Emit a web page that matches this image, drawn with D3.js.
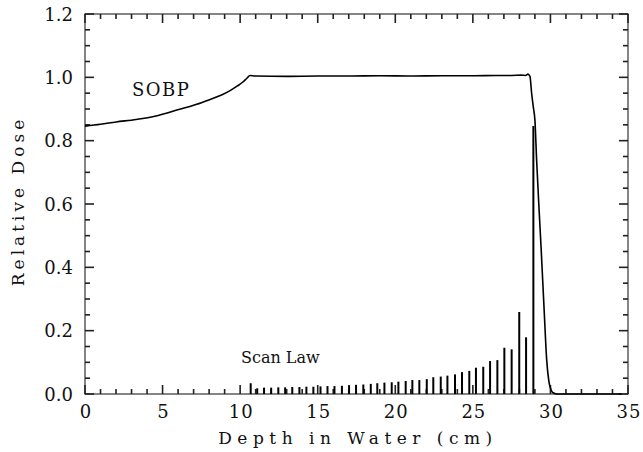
<!DOCTYPE html>
<html>
<head>
<meta charset="utf-8">
<script src="https://cdn.jsdelivr.net/npm/d3@7"></script>
<style>
  body { margin: 0; background: #fff; }
  text { font-family: "DejaVu Serif", serif; fill: #111; }
</style>
</head>
<body>
<svg id="chart" width="643" height="452"></svg>
<script>
// SOBP depth-dose curve
var sobpDepth = [0, 1, 2, 3.3, 4.5, 6.1, 7.2, 8.1, 8.8, 9.35, 9.8, 10.2, 10.45, 10.63, 11, 13, 15, 17, 19, 21, 23, 25, 26.5, 27.5, 28.1, 28.4, 28.55, 28.68, 28.79, 28.9, 29.0, 29.11, 29.25, 29.4, 29.6, 29.76, 29.9, 30.05, 30.2, 30.4, 32, 34.6];
var sobpDose  = [0.846, 0.852, 0.859, 0.867, 0.877, 0.899, 0.915, 0.931, 0.944, 0.958, 0.972, 0.986, 0.998, 1.006, 1.004, 1.003, 1.004, 1.004, 1.005, 1.004, 1.005, 1.005, 1.006, 1.006, 1.007, 1.006, 1.010, 1.003, 0.949, 0.905, 0.865, 0.739, 0.60, 0.46, 0.26, 0.107, 0.04, 0.012, 0.003, 0.0, 0.0, 0.0];

// scan law pencil beam weights
var scanDepth = [10.68, 11.10, 11.54, 12.00, 12.46, 12.90, 13.36, 13.82, 14.27, 14.72, 15.18, 15.63, 16.08, 16.56, 17.02, 17.47, 17.94, 18.42, 18.84, 19.30, 19.77, 20.20, 20.67, 21.10, 21.55, 22.03, 22.45, 22.93, 23.36, 23.85, 24.30, 24.77, 25.20, 25.67, 26.11, 26.58, 27.03, 27.50, 27.99, 28.43, 28.90];
var scanWeight = [0.034, 0.018, 0.020, 0.020, 0.021, 0.021, 0.022, 0.022, 0.023, 0.023, 0.024, 0.025, 0.025, 0.026, 0.028, 0.029, 0.030, 0.032, 0.034, 0.036, 0.037, 0.039, 0.041, 0.044, 0.044, 0.047, 0.053, 0.055, 0.058, 0.062, 0.069, 0.073, 0.083, 0.086, 0.104, 0.107, 0.146, 0.141, 0.259, 0.179, 0.846];

var xTicks = [0, 5, 10, 15, 20, 25, 30, 35];
var yTicks = [0.0, 0.2, 0.4, 0.6, 0.8, 1.0, 1.2];

var svg = d3.select("#chart");
var pLeft = 85, pRight = 628, pTop = 14, pBottom = 394;

var x = d3.scaleLinear().domain([0, 35]).range([pLeft, pRight]);
var y = d3.scaleLinear().domain([0, 1.2]).range([pBottom, pTop]);

var minorX = d3.range(0, 36, 1);
var minorY = d3.range(0, 25, 1).map(function(i){ return i * 0.05; });

// frame
svg.append("rect")
    .attr("x", pLeft).attr("y", pTop)
    .attr("width", pRight - pLeft).attr("height", pBottom - pTop)
    .attr("fill", "none").attr("stroke", "#444").attr("stroke-width", 1.3);

// inward ticks as small filled rects, major every 5 cm / 0.2
function xLen(i){ return i % 5 === 0 ? 9 : 5; }
function yLen(i){ return i % 4 === 0 ? 9 : 5; }

svg.selectAll(".tb").data(minorX).enter().append("rect")
    .attr("x", function(d){ return x(d) - 0.8; })
    .attr("y", function(d, i){ return pBottom - xLen(i); })
    .attr("width", 1.6)
    .attr("height", function(d, i){ return xLen(i); })
    .attr("fill", "#222");
svg.selectAll(".tt").data(minorX).enter().append("rect")
    .attr("x", function(d){ return x(d) - 0.8; })
    .attr("y", pTop)
    .attr("width", 1.6)
    .attr("height", function(d, i){ return xLen(i); })
    .attr("fill", "#222");
svg.selectAll(".tl").data(minorY).enter().append("rect")
    .attr("x", pLeft)
    .attr("y", function(d){ return y(d) - 0.8; })
    .attr("width", function(d, i){ return yLen(i); })
    .attr("height", 1.6)
    .attr("fill", "#222");
svg.selectAll(".tr").data(minorY).enter().append("rect")
    .attr("x", function(d, i){ return pRight - yLen(i); })
    .attr("y", function(d){ return y(d) - 0.8; })
    .attr("width", function(d, i){ return yLen(i); })
    .attr("height", 1.6)
    .attr("fill", "#222");

// tick labels
svg.selectAll(".xlab").data(xTicks).enter().append("text")
    .attr("x", function(d){ return x(d) + 1; })
    .attr("y", 418)
    .attr("text-anchor", "middle")
    .style("font-size", "18px")
    .style("letter-spacing", "1px")
    .text(function(d){ return d; });

svg.selectAll(".ylab").data(yTicks).enter().append("text")
    .attr("x", 73)
    .attr("y", function(d){ return y(d) + 6.5; })
    .attr("text-anchor", "end")
    .style("font-size", "18px")
    .text(function(d){ return d.toFixed(1); });

// axis titles
svg.append("text")
    .attr("x", 358).attr("y", 444)
    .attr("text-anchor", "middle")
    .style("font-size", "17px")
    .style("letter-spacing", "5.5px")
    .text("Depth in Water (cm)");

svg.append("text")
    .attr("transform", "translate(24,201) rotate(-90)")
    .attr("text-anchor", "middle")
    .style("font-size", "17px")
    .style("letter-spacing", "4px")
    .text("Relative Dose");

// scan law lines
svg.selectAll(".bar").data(scanDepth).enter().append("line")
    .attr("x1", function(d){ return x(d); })
    .attr("x2", function(d){ return x(d); })
    .attr("y1", y(0))
    .attr("y2", function(d, i){ return y(scanWeight[i]); })
    .attr("stroke", "#000")
    .attr("stroke-width", 2);

// SOBP curve
var line = d3.line()
    .x(function(d){ return x(d[0]); })
    .y(function(d){ return y(d[1]); })
    .curve(d3.curveMonotoneX);

svg.append("path")
    .datum(d3.zip(sobpDepth, sobpDose))
    .attr("d", line)
    .attr("fill", "none")
    .attr("stroke", "#000")
    .attr("stroke-width", 1.6);

// labels
svg.append("text").attr("x", 132).attr("y", 96)
    .style("font-size", "18px").style("letter-spacing", "1.5px").text("SOBP");
svg.append("text").attr("x", 241).attr("y", 363)
    .style("font-size", "16px").text("Scan Law");
</script>
</body>
</html>
